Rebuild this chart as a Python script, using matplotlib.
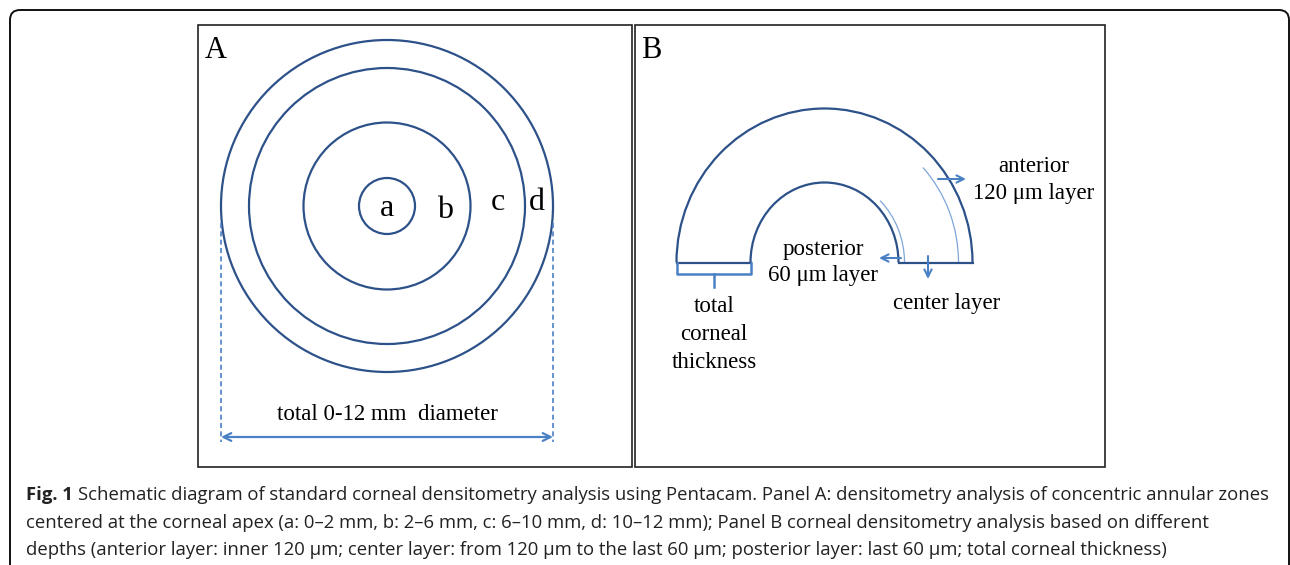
import matplotlib
matplotlib.use("Agg")
import matplotlib.pyplot as plt
from matplotlib.patches import Circle, Arc, FancyBboxPatch, Rectangle

# schematic values (pixel space of the figure)
ring_radii = [166, 138, 83.5, 28]          # zones d, c, b, a (outer edges)
ring_center = (387, 206)
zone_labels = ["a", "b", "c", "d"]
zone_label_x = [387, 445, 498, 537]
zone_label_y = [208, 211, 203, 203]

arch_center = (824.5, 262.5)
arch_outer = (148, 154)                     # half-width, half-height
arch_inner = (74, 80)
layer_arcs = [(80, 86, 312), (134, 140, 316)]  # rx, ry, start angle

b_labels = ["anterior", "120 \u03bcm layer", "posterior", "60 \u03bcm layer",
            "center layer", "total", "corneal", "thickness"]
b_label_x = [1034, 1034, 823, 823, 947, 714, 714, 714]
b_label_y = [167, 193, 249, 276, 304, 307, 335, 363]

caption = [
    "Schematic diagram of standard corneal densitometry analysis using Pentacam. "
    "Panel A: densitometry analysis of concentric annular zones",
    "centered at the corneal apex (a: 0\u20132 mm, b: 2\u20136 mm, c: 6\u201310 mm, "
    "d: 10\u201312 mm); Panel B corneal densitometry analysis based on different",
    "depths (anterior layer: inner 120 \u03bcm; center layer: from 120 \u03bcm to the last "
    "60 \u03bcm; posterior layer: last 60 \u03bcm; total corneal thickness)",
]

navy = "#2d5189"
light = "#4a80c4"
thin = "#7fa6d8"
serif = "Liberation Serif"
cap_size = 13.3

fig = plt.figure(figsize=(12.9, 5.65), dpi=100)
ax = fig.add_axes([0, 0, 1, 1])
ax.set_xlim(0, 1290)
ax.set_ylim(565, 0)
ax.axis("off")

# outer rounded frame
ax.add_patch(FancyBboxPatch((10, 10), 1279, 570,
                            boxstyle="round,pad=0,rounding_size=10",
                            fill=False, ec="#111111", lw=1.4, clip_on=False))

# panel frames
ax.add_patch(Rectangle((198, 25), 434, 442, fill=False, ec="#222222", lw=1.2))
ax.add_patch(Rectangle((635, 25), 470, 442, fill=False, ec="#222222", lw=1.2))

ax.text(205, 51, "A", fontsize=22, family=serif, ha="left", va="center")
ax.text(641, 51, "B", fontsize=22, family=serif, ha="left", va="center")

# panel A: concentric zones
for r in ring_radii:
    ax.add_patch(Circle(ring_center, r, fill=False, ec=navy, lw=1.6))
for lab, x, y in zip(zone_labels, zone_label_x, zone_label_y):
    ax.text(x, y, lab, fontsize=23, family=serif, ha="center", va="center")

xl = ring_center[0] - ring_radii[0]
xr = ring_center[0] + ring_radii[0]
ax.plot([xl, xl], [223, 442], color=light, lw=1.2, ls=(0, (3, 2)))
ax.plot([xr, xr], [223, 442], color=light, lw=1.2, ls=(0, (3, 2)))
ax.annotate("", xy=(xl, 437), xytext=(xr, 437),
            arrowprops=dict(arrowstyle="<->", color=light, lw=1.6,
                            shrinkA=0, shrinkB=0, mutation_scale=14))
ax.text(387, 414, "total 0-12 mm  diameter", fontsize=16.5, family=serif,
        ha="center", va="center")

# panel B: corneal layers
cx, cy = arch_center
ax.add_patch(Arc(arch_center, 2 * arch_outer[0], 2 * arch_outer[1],
                 theta1=180, theta2=360, ec=navy, lw=1.6))
ax.add_patch(Arc(arch_center, 2 * arch_inner[0], 2 * arch_inner[1],
                 theta1=180, theta2=360, ec=navy, lw=1.6))
ax.plot([cx - arch_outer[0], cx - arch_inner[0]], [cy, cy], color=navy, lw=1.6)
ax.plot([cx + arch_inner[0], cx + arch_outer[0]], [cy, cy], color=navy, lw=1.6)
for rx, ry, t1 in layer_arcs:
    ax.add_patch(Arc(arch_center, 2 * rx, 2 * ry, theta1=t1, theta2=360,
                     ec=thin, lw=0.9))

arrow = dict(arrowstyle="->", color=light, lw=1.5, shrinkA=0, shrinkB=0,
             mutation_scale=13)
ax.annotate("", xy=(966, 179), xytext=(938, 179), arrowprops=arrow)
ax.annotate("", xy=(879, 258), xytext=(901, 258), arrowprops=arrow)
ax.annotate("", xy=(928, 279), xytext=(928, 256), arrowprops=arrow)

# bracket under total thickness
bx0, bx1 = cx - arch_outer[0], cx - arch_inner[0]
ax.plot([bx0, bx0, bx1, bx1], [263, 274, 274, 263], color=light, lw=1.8)
ax.plot([(bx0 + bx1) / 2] * 2, [274, 287], color=light, lw=1.8)

for lab, x, y in zip(b_labels, b_label_x, b_label_y):
    ax.text(x, y, lab, fontsize=16.5, family=serif, ha="center", va="center")

# caption
t = ax.text(26, 495, "Fig. 1", fontsize=cap_size, family="Open Sans",
            weight="bold", ha="left", va="center", color="#222222")
fig.canvas.draw()
bb = t.get_window_extent().transformed(ax.transData.inverted())
ax.text(bb.x1 + 5, 495, caption[0], fontsize=cap_size, family="Open Sans",
        ha="left", va="center", color="#222222")
ax.text(26, 523, caption[1], fontsize=cap_size, family="Open Sans",
        ha="left", va="center", color="#222222")
ax.text(26, 550, caption[2], fontsize=cap_size, family="Open Sans",
        ha="left", va="center", color="#222222")

fig.savefig("out.png", dpi=100)
